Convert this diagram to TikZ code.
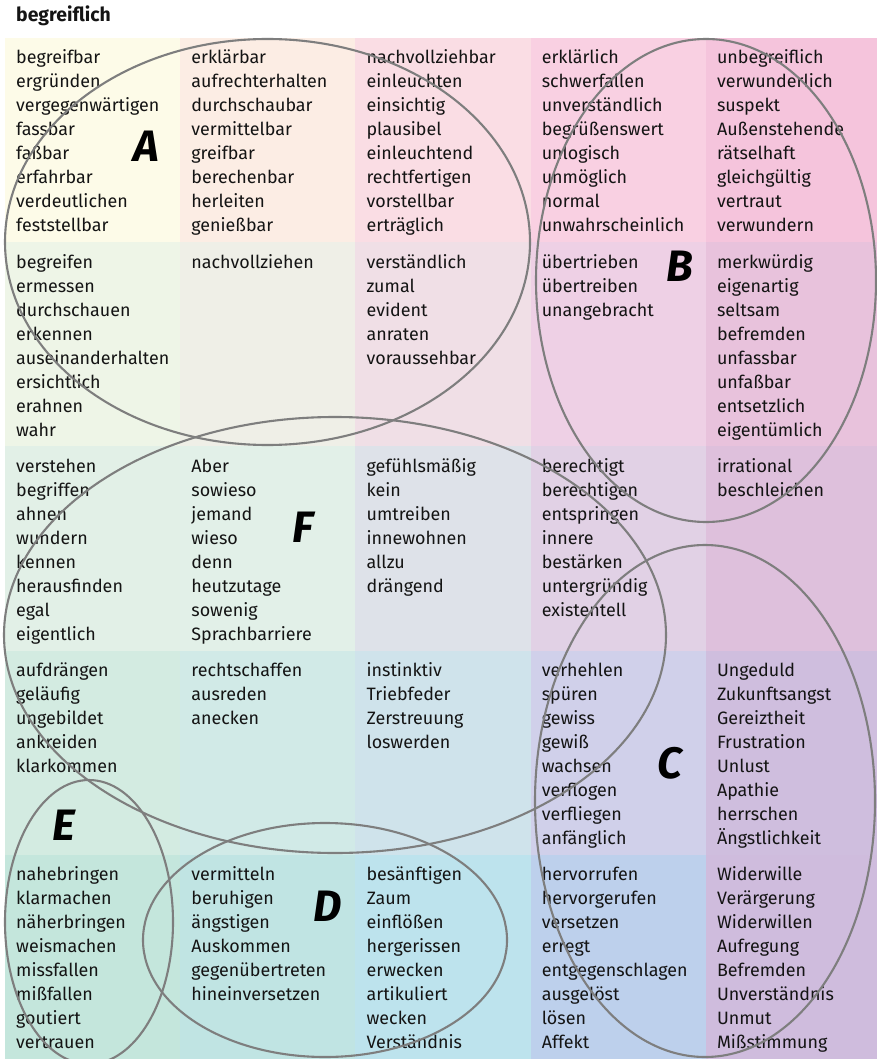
\documentclass[tikz,border=0pt]{standalone}
\usepackage{fontspec}
\setmainfont{Fira Sans}

% cell colours, row r / column c
\definecolor{cellr1c1}{HTML}{FDFBE8}
\definecolor{cellr1c2}{HTML}{FCEDE4}
\definecolor{cellr1c3}{HTML}{FADDE4}
\definecolor{cellr1c4}{HTML}{F9D0E2}
\definecolor{cellr1c5}{HTML}{F5C4DC}
\definecolor{cellr2c1}{HTML}{EEF5E7}
\definecolor{cellr2c2}{HTML}{EFEFE7}
\definecolor{cellr2c3}{HTML}{F0DFE6}
\definecolor{cellr2c4}{HTML}{EED0E5}
\definecolor{cellr2c5}{HTML}{E8C2DC}
\definecolor{cellr3c1}{HTML}{E2F0E7}
\definecolor{cellr3c2}{HTML}{E2F0E8}
\definecolor{cellr3c3}{HTML}{DEE2E9}
\definecolor{cellr3c4}{HTML}{E1D1E5}
\definecolor{cellr3c5}{HTML}{DEC0DC}
\definecolor{cellr4c1}{HTML}{D3EBE1}
\definecolor{cellr4c2}{HTML}{D1EAE7}
\definecolor{cellr4c3}{HTML}{CFE3EB}
\definecolor{cellr4c4}{HTML}{D0D0EA}
\definecolor{cellr4c5}{HTML}{CFBEDE}
\definecolor{cellr5c1}{HTML}{C4E6DC}
\definecolor{cellr5c2}{HTML}{C0E4E3}
\definecolor{cellr5c3}{HTML}{BDE3ED}
\definecolor{cellr5c4}{HTML}{BDD0EC}
\definecolor{cellr5c5}{HTML}{CFBCDD}
\definecolor{ringgray}{HTML}{7E7E7E}
\definecolor{wordink}{HTML}{141414}

% one column of words inside a cell: #1 column, #2 row, #3 list
\newcommand\wordcell[3]{%
  \foreach \w [count=\i] in {#3} {%
    \node[word] (w-#2-#1-\i) at ({16+(#1-1)*175.2},{64+(#2-1)*204.2+(\i-1)*24}) {\w};
  }%
}

\begin{document}
\begin{tikzpicture}[x=1pt,y=-1pt,
  word/.style={anchor=base west, inner sep=0pt, text=wordink,
    font=\fontsize{17.9}{20}\selectfont},
  ring/.style={draw=ringgray, line width=2.1pt},
  ringlabel/.style={inner sep=0pt, text=black,
    font=\fontsize{44}{46}\selectfont\bfseries\itshape},
  heading/.style={anchor=base west, inner sep=0pt, text=wordink,
    font=\fontsize{19.4}{22}\selectfont\bfseries}]

\useasboundingbox (0,0) rectangle (877,1059);
\fill[white] (0,0) rectangle (877,1059);

\begin{scope}
\clip (0,0) rectangle (877,1059);

% coloured grid
\foreach \r in {1,...,5} {
  \foreach \c in {1,...,5} {
    \fill[cellr\r c\c] ({5+(\c-1)*175.2},{38+(\r-1)*204.2})
      rectangle ({5+\c*175.2},{38+\r*204.2});
  }
}

\node[heading] (title) at (16,22) {begreiflich};

% row 1
\wordcell{1}{1}{begreifbar,ergründen,vergegenwärtigen,fassbar,faßbar,erfahrbar,verdeutlichen,feststellbar}
\wordcell{2}{1}{erklärbar,aufrechterhalten,durchschaubar,vermittelbar,greifbar,berechenbar,herleiten,genießbar}
\wordcell{3}{1}{nachvollziehbar,einleuchten,einsichtig,plausibel,einleuchtend,rechtfertigen,vorstellbar,erträglich}
\wordcell{4}{1}{erklärlich,schwerfallen,unverständlich,begrüßenswert,unlogisch,unmöglich,normal,unwahrscheinlich}
\wordcell{5}{1}{unbegreiflich,verwunderlich,suspekt,Außenstehende,rätselhaft,gleichgültig,vertraut,verwundern}
% row 2
\wordcell{1}{2}{begreifen,ermessen,durchschauen,erkennen,auseinanderhalten,ersichtlich,erahnen,wahr}
\wordcell{2}{2}{nachvollziehen}
\wordcell{3}{2}{verständlich,zumal,evident,anraten,voraussehbar}
\wordcell{4}{2}{übertrieben,übertreiben,unangebracht}
\wordcell{5}{2}{merkwürdig,eigenartig,seltsam,befremden,unfassbar,unfaßbar,entsetzlich,eigentümlich}
% row 3
\wordcell{1}{3}{verstehen,begriffen,ahnen,wundern,kennen,herausfinden,egal,eigentlich}
\wordcell{2}{3}{Aber,sowieso,jemand,wieso,denn,heutzutage,sowenig,Sprachbarriere}
\wordcell{3}{3}{gefühlsmäßig,kein,umtreiben,innewohnen,allzu,drängend}
\wordcell{4}{3}{berechtigt,berechtigen,entspringen,innere,bestärken,untergründig,existentell}
\wordcell{5}{3}{irrational,beschleichen}
% row 4
\wordcell{1}{4}{aufdrängen,geläufig,ungebildet,ankreiden,klarkommen}
\wordcell{2}{4}{rechtschaffen,ausreden,anecken}
\wordcell{3}{4}{instinktiv,Triebfeder,Zerstreuung,loswerden}
\wordcell{4}{4}{verhehlen,spüren,gewiss,gewiß,wachsen,verflogen,verfliegen,anfänglich}
\wordcell{5}{4}{Ungeduld,Zukunftsangst,Gereiztheit,Frustration,Unlust,Apathie,herrschen,Ängstlichkeit}
% row 5
\wordcell{1}{5}{nahebringen,klarmachen,näherbringen,weismachen,missfallen,mißfallen,goutiert,vertrauen}
\wordcell{2}{5}{vermitteln,beruhigen,ängstigen,Auskommen,gegenübertreten,hineinversetzen}
\wordcell{3}{5}{besänftigen,Zaum,einflößen,hergerissen,erwecken,artikuliert,wecken,Verständnis}
\wordcell{4}{5}{hervorrufen,hervorgerufen,versetzen,erregt,entgegenschlagen,ausgelöst,lösen,Affekt}
\wordcell{5}{5}{Widerwille,Verärgerung,Widerwillen,Aufregung,Befremden,Unverständnis,Unmut,Mißstimmung}

% grouping rings
\draw[ring] (267.5,242) ellipse [x radius=262.5, y radius=203];
\draw[ring] (706,280.5) ellipse [x radius=170, y radius=241.5];
\draw[ring] (705,801) ellipse [x radius=170, y radius=256];
\draw[ring] (325,940) ellipse [x radius=182, y radius=117];
\draw[ring] (89,922) ellipse [x radius=84, y radius=142];
\draw[ring] (335,635) ellipse [x radius=331, y radius=218];

% ring letters
\node[ringlabel] (labA) at (146,146) {A};
\node[ringlabel] (labB) at (680,266) {B};
\node[ringlabel] (labC) at (670,763) {C};
\node[ringlabel] (labD) at (328,906) {D};
\node[ringlabel] (labE) at (64,825) {E};
\node[ringlabel] (labF) at (303,527) {F};
\end{scope}
\end{tikzpicture}
\end{document}
